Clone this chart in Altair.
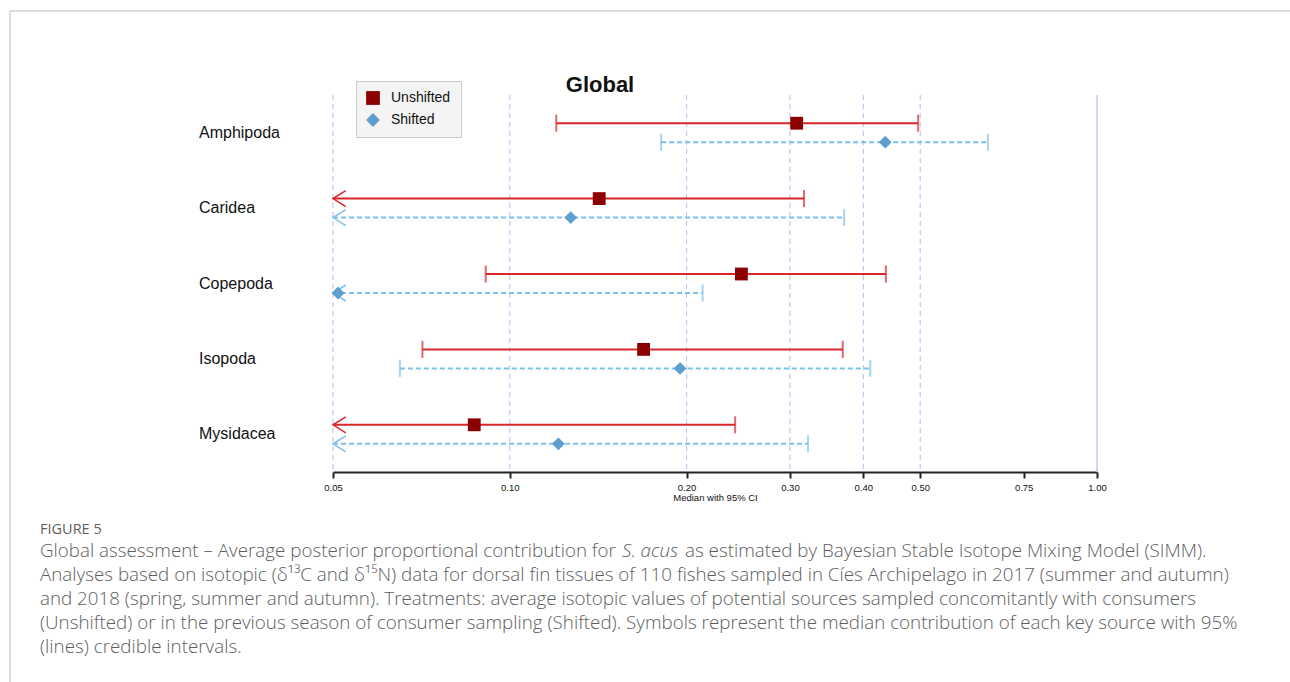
import altair as alt
import pandas as pd

# ---- data -------------------------------------------------------------
sources = ["Amphipoda", "Caridea", "Copepoda", "Isopoda", "Mysidacea"]
treatments = ["Unshifted", "Shifted"]

# posterior medians and 95% credible limits (None = limit below 0.05)
unshifted_median = [0.308, 0.142, 0.248, 0.169, 0.087]
unshifted_lower = [0.120, None, 0.091, 0.071, None]
unshifted_upper = [0.496, 0.317, 0.437, 0.369, 0.242]

shifted_median = [0.436, 0.127, 0.051, 0.195, 0.121]
shifted_lower = [0.181, None, None, 0.065, None]
shifted_upper = [0.652, 0.371, 0.213, 0.411, 0.322]

x_ticks = [0.05, 0.10, 0.20, 0.30, 0.40, 0.50, 0.75, 1.00]
dashed_grid = [0.05, 0.10, 0.20, 0.30, 0.40, 0.50]
solid_grid = [1.00]
X_MIN, X_MAX = 0.05, 1.00

caption_head = "FIGURE 5"
caption_l1a = "Global assessment \u2013 Average posterior proportional contribution for"
caption_l1b = "S. acus"
caption_l1c = "as estimated by Bayesian Stable Isotope Mixing Model (SIMM)."
caption_lines = [
    "Analyses based on isotopic (\u03b4\u00b9\u00b3C and \u03b4\u00b9\u2075N) data for dorsal fin tissues of 110 fishes sampled in C\u00edes Archipelago in 2017 (summer and autumn)",
    "and 2018 (spring, summer and autumn). Treatments: average isotopic values of potential sources sampled concomitantly with consumers",
    "(Unshifted) or in the previous season of consumer sampling (Shifted). Symbols represent the median contribution of each key source with 95%",
    "(lines) credible intervals.",
]

# ---- table ------------------------------------------------------------
OFFSET = 0.126  # vertical separation of the two treatments within a row
rows = []
for t, med, lo, hi, off in [
    ("Unshifted", unshifted_median, unshifted_lower, unshifted_upper, -OFFSET),
    ("Shifted", shifted_median, shifted_lower, shifted_upper, OFFSET),
]:
    for i, s in enumerate(sources):
        rows.append({
            "source": s,
            "treatment": t,
            "median": med[i],
            "lo": X_MIN if lo[i] is None else lo[i],
            "hi": hi[i],
            "clipped": lo[i] is None,
            "ypos": i + 0.5 + off,
        })
df = pd.DataFrame(rows)
df_labels = pd.DataFrame({"source": sources, "ypos": [i + 0.5 for i in range(len(sources))]})
one = pd.DataFrame({"k": [0]})

W, H = 764, 377
FONT = "Liberation Sans, Arial, sans-serif"
NARROW = "Liberation Sans Narrow, Liberation Sans, sans-serif"

x_scale = alt.Scale(type="log", domain=[X_MIN, X_MAX], nice=False)
y_scale = alt.Scale(domain=[0, len(sources)], reverse=True, nice=False, zero=False)
x_axis = alt.Axis(
    values=x_ticks, format=".2f", title="Median with 95% CI", grid=False,
    domainColor="#222222", domainWidth=2, tickColor="#222222", tickWidth=2, tickSize=6,
    labelFontSize=9.5, labelFont=NARROW, labelColor="#111111", labelPadding=4,
    titleFontSize=9.5, titleFontWeight="normal", titleFont=NARROW, titleColor="#111111",
    titlePadding=1, labelFlush=False,
)
Y = alt.Y("ypos:Q", scale=y_scale, axis=None)


def X(field):
    return alt.X(field, scale=x_scale, axis=x_axis)


# reference lines
grid_dashed = alt.Chart(pd.DataFrame({"v": dashed_grid})).mark_rule(
    color="#c4c4f4", strokeDash=[5, 4], strokeWidth=1.2
).encode(x=X("v:Q"), y=alt.value(0), y2=alt.value(H - 2))
grid_solid = alt.Chart(pd.DataFrame({"v": solid_grid})).mark_rule(
    color="#c4c4f4", strokeWidth=1.5
).encode(x=X("v:Q"), y=alt.value(0), y2=alt.value(H))

styles = {
    "Unshifted": dict(color="#d9262b", strokeDash=[1, 0]),
    "Shifted": dict(color="#7ec0f0", strokeDash=[5, 3]),
}

layers = [grid_dashed, grid_solid]
ARROW = "M1.6,-1L0,0L1.6,1"
for t in treatments:
    base = alt.Chart(df[df.treatment == t])
    st = styles[t]
    line = base.mark_rule(color=st["color"], strokeWidth=2, strokeDash=st["strokeDash"]).encode(
        x=X("lo:Q"), x2="hi:Q", y=Y
    )
    cap_hi = base.mark_tick(color=st["color"], size=17, thickness=2).encode(x=X("hi:Q"), y=Y)
    cap_lo = base.transform_filter("!datum.clipped").mark_tick(
        color=st["color"], size=17, thickness=2
    ).encode(x=X("lo:Q"), y=Y)
    arrow = base.transform_filter("datum.clipped").mark_point(
        shape=ARROW, filled=False, stroke=st["color"], strokeWidth=1.5, size=256, opacity=1
    ).encode(x=X("lo:Q"), y=Y)
    layers += [line, cap_hi, cap_lo, arrow]

points = alt.Chart(df).mark_point(filled=True, opacity=1, size=165).encode(
    x=X("median:Q"),
    y=Y,
    color=alt.Color(
        "treatment:N",
        scale=alt.Scale(domain=treatments, range=["#8b0000", "#5f9fcf"]),
        legend=alt.Legend(
            title=None, orient="none", legendX=23, legendY=-14,
            fillColor="#f4f4f4", strokeColor="#cccccc", padding=10,
            labelFontSize=14, labelFont=FONT, labelColor="#111111",
            symbolSize=190, symbolStrokeWidth=0, symbolOpacity=1,
            rowPadding=8, labelOffset=11,
        ),
    ),
    shape=alt.Shape(
        "treatment:N",
        scale=alt.Scale(domain=treatments, range=["square", "diamond"]),
    ),
)
layers.append(points)

# source names on the left
labels = alt.Chart(df_labels).mark_text(
    align="left", baseline="middle", fontSize=16, font=FONT, color="#111111"
).encode(x=alt.value(-134), y=Y, text="source:N")
layers.append(labels)

# chart title
title = alt.Chart(one).mark_text(
    text="Global", align="center", baseline="middle", fontSize=22, fontWeight="bold",
    font=FONT, color="#111111"
).encode(x=alt.value(267), y=alt.value(-10))
layers.append(title)

# frame around the figure block
LEFT, TOP = 333, 95
frame_top = alt.Chart(one).mark_rule(color="#d0d0d0", strokeWidth=1.5).encode(
    x=alt.value(10 - LEFT), x2=alt.value(1290 - LEFT), y=alt.value(11 - TOP)
)
frame_left = alt.Chart(one).mark_rule(color="#d0d0d0", strokeWidth=1.5).encode(
    x=alt.value(10 - LEFT), y=alt.value(11 - TOP), y2=alt.value(682 - TOP)
)
layers += [frame_top, frame_left]

# caption
CAP_FONT = "Open Sans, Lato, sans-serif"
CAP_COLOR = "#5e5e5e"
CAP_SIZE = 18.8
head = alt.Chart(one).mark_text(
    text=caption_head, align="left", baseline="middle", fontSize=14.5, font=CAP_FONT,
    color=CAP_COLOR
).encode(x=alt.value(40 - LEFT), y=alt.value(530 - TOP))
layers.append(head)
for txt, x0, style in [(caption_l1a, 40, "normal"), (caption_l1b, 622, "italic"), (caption_l1c, 685, "normal")]:
    layers.append(alt.Chart(one).mark_text(
        text=txt, align="left", baseline="middle", fontSize=CAP_SIZE, font=CAP_FONT,
        color=CAP_COLOR, fontStyle=style, fontWeight=300
    ).encode(x=alt.value(x0 - LEFT), y=alt.value(551 - TOP)))
for j, txt in enumerate(caption_lines):
    layers.append(alt.Chart(one).mark_text(
        text=txt, align="left", baseline="middle", fontSize=CAP_SIZE, font=CAP_FONT,
        color=CAP_COLOR, fontWeight=300
    ).encode(x=alt.value(40 - LEFT), y=alt.value(575 + 24 * j - TOP)))

chart = alt.layer(*layers).properties(
    width=W, height=H,
    background="white",
    autosize=alt.AutoSizeParams(type="none"),
    padding={"left": LEFT, "top": TOP, "right": 1290 - LEFT - W, "bottom": 682 - TOP - H},
).configure_view(stroke="transparent", strokeWidth=0)

chart.save("out.html", embed_options={"renderer": "svg", "actions": False})
